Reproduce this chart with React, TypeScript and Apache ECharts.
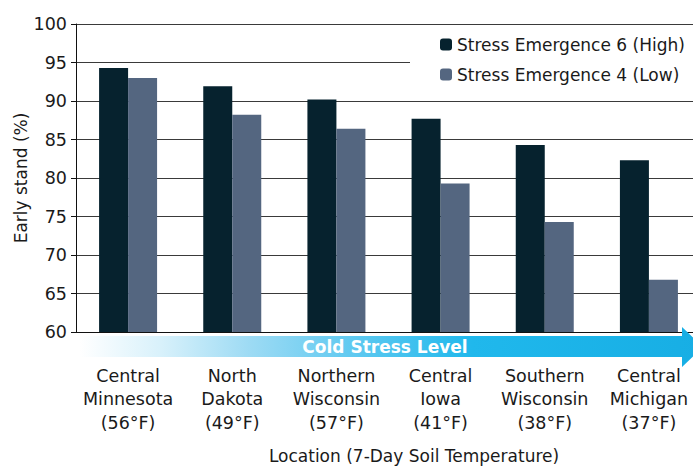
import React, { useEffect, useRef } from "react";
import * as echarts from "echarts";

const locations = ["Central\nMinnesota", "North\nDakota", "Northern\nWisconsin", "Central\nIowa", "Southern\nWisconsin", "Central\nMichigan"];
const soilTemps = ["(56°F)", "(49°F)", "(57°F)", "(41°F)", "(38°F)", "(37°F)"];
const seriesNames = ["Stress Emergence 6 (High)", "Stress Emergence 4 (Low)"];
const highValues = [94.3, 91.9, 90.2, 87.7, 84.3, 82.3];
const lowValues = [93.0, 88.2, 86.4, 79.3, 74.3, 66.8];
const yMin = 60;
const yMax = 100;
const yStep = 5;
const yTitle = "Early stand (%)";
const xTitle = "Location (7-Day Soil Temperature)";
const arrowLabel = "Cold Stress Level";

const FONT = "DejaVu Sans";
const TEXT = "#1a1a1a";

export default function App() {
  const ref = useRef<HTMLDivElement>(null);
  useEffect(() => {
    if (!ref.current) return;
    const chart = echarts.init(ref.current, null, { renderer: "svg" });
    const categories = locations.map((l, i) => `${l}\n${soilTemps[i]}`);
    chart.setOption({
      animation: false,
      textStyle: { fontFamily: FONT },
      grid: { left: 76, top: 24, width: 625, height: 308, containLabel: false },
      legend: {
        orient: "vertical",
        left: 410,
        top: 30,
        padding: [6, 40, 6, 30],
        backgroundColor: "#ffffff",
        itemWidth: 12,
        itemHeight: 12,
        itemGap: 13,
        textStyle: { fontFamily: FONT, fontSize: 17, color: TEXT },
        data: seriesNames,
      },
      xAxis: {
        type: "category",
        data: categories,
        axisLine: { show: true, lineStyle: { color: "#111", width: 1 } },
        axisTick: { show: false },
        axisLabel: {
          interval: 0,
          margin: 32,
          fontFamily: FONT,
          fontSize: 17.5,
          lineHeight: 23.5,
          color: TEXT,
          align: "center",
        },
      },
      yAxis: {
        type: "value",
        min: yMin,
        max: yMax,
        interval: yStep,
        name: yTitle,
        nameLocation: "middle",
        nameGap: 47,
        nameMoveOverlap: false,
        nameRotate: 90,
        nameTextStyle: { fontFamily: FONT, fontSize: 17, color: TEXT },
        axisLine: { show: true, lineStyle: { color: "#111", width: 1 } },
        axisTick: { show: true, length: 5, lineStyle: { color: "#111" } },
        axisLabel: { margin: 9, fontFamily: FONT, fontSize: 17.5, color: TEXT },
        splitLine: { show: true, lineStyle: { color: "#3a3a3a", width: 1 } },
      },
      series: [
        {
          name: seriesNames[0],
          type: "bar",
          data: highValues,
          barWidth: 29,
          barGap: "0%",
          itemStyle: { color: "#06222e" },
        },
        {
          name: seriesNames[1],
          type: "bar",
          data: lowValues,
          barWidth: 29,
          barGap: "0%",
          itemStyle: { color: "#546680" },
        },
      ],
      graphic: [
        {
          type: "polygon",
          z: 10,
          shape: {
            points: [
              [80, 336],
              [682, 336],
              [682, 327],
              [703, 347],
              [682, 367],
              [682, 357],
              [80, 357],
            ],
          },
          style: {
            fill: new echarts.graphic.LinearGradient(0, 0, 1, 0, [
              { offset: 0, color: "#ffffff" },
              { offset: 0.13, color: "#d8f1fb" },
              { offset: 0.27, color: "#9edbf4" },
              { offset: 0.45, color: "#5bc8f0" },
              { offset: 0.63, color: "#20b8ec" },
              { offset: 1, color: "#17aee4" },
            ]),
          },
        },
        {
          type: "text",
          z: 11,
          x: 385,
          y: 347,
          style: {
            text: arrowLabel,
            fill: "#ffffff",
            font: `bold 17px "${FONT}"`,
            textAlign: "center",
            textVerticalAlign: "middle",
          },
        },
        {
          type: "text",
          z: 11,
          x: 414,
          y: 456,
          style: {
            text: xTitle,
            fill: TEXT,
            font: `17px "${FONT}"`,
            textAlign: "center",
            textVerticalAlign: "middle",
          },
        },
      ],
    });
    return () => chart.dispose();
  }, []);
  return (
    <div style={{ position: "absolute", left: 0, top: 0, width: 693, height: 466, overflow: "hidden", background: "#fff" }}>
      <div ref={ref} style={{ width: 720, height: 466 }} />
    </div>
  );
}
